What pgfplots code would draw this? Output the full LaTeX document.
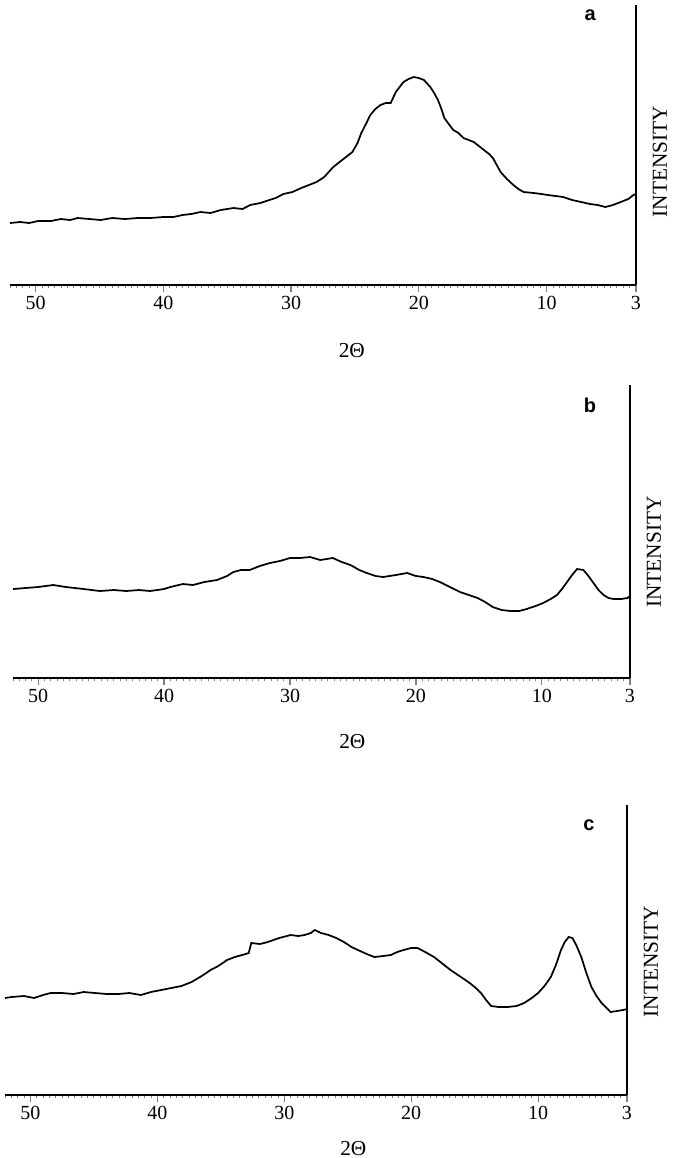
\documentclass[border=0pt]{standalone}
\usepackage{fontspec}
\setmainfont{Liberation Serif}
\newfontfamily\labfont{Liberation Sans}
\usepackage{pgfplots}
\pgfplotsset{compat=1.18}
\pgfplotstableread{
x y
52 62
51.2 63
50.5 62
49.8 64
48.8 64
48 66
47.3 65
46.7 67
45.8 66
44.9 65
44 67
43 66
42 67
41 67
40 68
39.2 68
38.5 70
37.8 71
37.1 73
36.3 72
35.5 75
34.5 77
33.8 76
33.2 80
32.4 82
31.7 85
31.2 87
30.6 91
29.9 93
29.2 97
28.6 100
28 103
27.4 108
26.7 118
26 125
25.2 133
24.8 142
24.5 152
24.1 162
23.8 170
23.4 176
23 180
22.6 182
22.2 182
21.8 193
21.5 198
21.2 203
20.8 206
20.4 208
20 207
19.6 205
19.1 198
18.8 192
18.5 185
18.2 175
18 167
17.6 160
17.3 155
16.9 152
16.5 147
16.1 145
15.7 143
15.3 139
14.9 135
14.5 131
14.2 127
13.9 120
13.6 113
13.1 106
12.6 100
12.2 96
11.8 93
11 92
10.4 91
9.9 90
9.3 89
8.7 88
8 85
7.3 83
6.6 81
6 80
5.4 78
4.8 80
4.2 83
3.6 86
3.2 90
3.0 91
}\dataA
\pgfplotstableread{
x y
52 89
51 90
50 91
48.8 93
47.8 91
46.4 89
45.1 87
44 88
43 87
42 88
41.1 87
40 89
39.5 91
38.5 94
37.7 93
36.8 96
35.8 98
35 102
34.5 106
33.9 108
33.2 108
32.4 112
31.6 115
30.8 117
30 120
29.2 120
28.4 121
27.6 118
26.6 120
25.9 116
25.2 113
24.5 108
23.9 105
23.2 102
22.6 101
21.6 103
20.7 105
20 102
19.4 101
18.7 99
18.1 96
17.3 91
16.5 86
15.8 83
15.1 80
14.5 76
13.9 71
13.2 68
12.5 67
11.8 67
11.2 69
10.5 72
9.9 75
9.3 79
8.8 83
8.4 89
8 96
7.6 103
7.2 109
6.7 108
6.3 102
5.9 95
5.5 88
5.1 83
4.7 80
4.3 79
3.7 79
3.2 80
3.0 82
}\dataB
\pgfplotstableread{
x y
52 97
51.5 98
50.5 99
49.7 97
49 100
48.4 102
47.5 102
46.6 101
45.8 103
44.9 102
44 101
43.1 101
42.2 102
41.3 100
40.5 103
39.7 105
38.9 107
38.1 109
37.3 113
36.5 119
35.8 125
35.2 129
34.5 135
33.9 138
33.3 140
32.8 142
32.6 152
31.9 151
31.3 153
30.4 157
29.5 160
28.9 159
28.4 160
27.9 162
27.6 165
27.1 162
26.5 160
25.9 157
25.3 153
24.7 148
24.2 145
23.5 141
22.9 138
22.2 139
21.6 140
21.1 143
20.6 145
20 147
19.5 147
18.9 143
18.2 138
17.5 131
16.9 125
16.2 119
15.5 113
15 108
14.5 102
14.1 95
13.7 89
13.1 88
12.4 88
11.7 89
11.1 92
10.5 97
10 102
9.5 109
9 118
8.6 130
8.2 145
7.9 153
7.6 158
7.3 157
7 150
6.6 138
6.2 122
5.8 108
5.4 99
5 92
4.6 87
4.3 83
3.8 84
3.3 85
3.0 86
}\dataC
\pgfplotsset{
  xrdstyle/.style={
    scale only axis,
    x dir=reverse,
    xmin=3, xmax=52, ymin=0,
    axis x line*=bottom,
    axis y line*=right,
    axis line style={line width=1.3pt},
    ytick=\empty,
    xtick={50,40,30,20,10,3},
    xticklabels={50,40,30,20,10,3},
    minor xtick={3.5,4,...,52},
    major tick length=5pt,
    minor tick length=2.5pt,
    tick align=outside,
    minor tick style={line width=0.6pt},
    major tick style={line width=0.9pt},
    xticklabel style={font=\fontsize{15}{18}\selectfont, yshift=0pt},
    /pgf/number format/assume math mode=true,
    clip=false,
  },
}
\begin{document}
\begin{tikzpicture}
\useasboundingbox (0,0) rectangle (504.75pt,-868.5pt);
% panel a
\begin{axis}[xrdstyle, width=469.5pt, height=210pt, ymax=280,
  at={(7.5pt,-213.75pt)}, anchor=south west]
\addplot[black, line width=1.3pt] table[x=x,y=y] {\dataA};
\node[font=\fontsize{16}{19}\selectfont] at (rel axis cs:0.546,0) [yshift=-49pt] {2Θ};
\node[font=\fontsize{16}{19}\selectfont, xshift=18pt, rotate=90] at (rel axis cs:1,0.44) {INTENSITY};
\node[font=\labfont\bfseries\fontsize{15}{17}\selectfont] at (rel axis cs:0.927,0.964) {a};
\end{axis}
% panel b
\begin{axis}[xrdstyle, width=462.75pt, height=219.75pt, ymax=293,
  at={(9.75pt,-508.5pt)}, anchor=south west]
\addplot[black, line width=1.3pt] table[x=x,y=y] {\dataB};
\node[font=\fontsize{16}{19}\selectfont] at (rel axis cs:0.55,0) [yshift=-48pt] {2Θ};
\node[font=\fontsize{16}{19}\selectfont, xshift=18pt, rotate=90] at (rel axis cs:1,0.43) {INTENSITY};
\node[font=\labfont\bfseries\fontsize{15}{17}\selectfont] at (rel axis cs:0.935,0.93) {b};
\end{axis}
% panel c
\begin{axis}[xrdstyle, width=466.5pt, height=217.5pt, ymax=290,
  at={(3.75pt,-821.25pt)}, anchor=south west]
\addplot[black, line width=1.3pt] table[x=x,y=y] {\dataC};
\node[font=\fontsize{16}{19}\selectfont] at (rel axis cs:0.56,0) [yshift=-40pt] {2Θ};
\node[font=\fontsize{16}{19}\selectfont, xshift=18pt, rotate=90] at (rel axis cs:1,0.46) {INTENSITY};
\node[font=\labfont\bfseries\fontsize{15}{17}\selectfont] at (rel axis cs:0.939,0.93) {c};
\end{axis}
\end{tikzpicture}
\end{document}
